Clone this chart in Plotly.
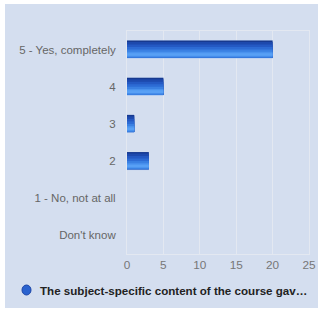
import plotly.graph_objects as go

categories = ["5 - Yes, completely", "4", "3", "2", "1 - No, not at all", "Don't know"]
counts = [20, 5, 1, 3, 0, 0]
x_ticks = [0, 5, 10, 15, 20, 25]
legend_label = "The subject-specific content of the course gav…"

W, H = 318, 313
L, R, T, B = 127, 309, 31, 254  # plot area in px

def px_x(x):
    return (x - L) / (R - L)

def px_y(y):
    return (B - y) / (B - T)

fig = go.Figure()

bar_w = 0.486
# gradient bands: (start fraction from top, end fraction, colour)
bands = [
    (0.00, 1.00, "#a9c6f0"),
    (0.00, 0.95, "#17398f"),
    (0.08, 0.95, "#1d49ad"),
    (0.22, 0.95, "#2459c3"),
    (0.36, 0.95, "#2d6bd4"),
    (0.50, 0.95, "#3a80e2"),
    (0.62, 0.89, "#4a92ee"),
    (0.70, 0.84, "#58a0f5"),
]
for s, e, c in bands:
    fig.add_trace(go.Bar(
        x=counts, y=categories, orientation="h",
        offset=-bar_w / 2 + s * bar_w, width=(e - s) * bar_w,
        marker=dict(color=c, line=dict(width=0)),
        showlegend=False, hoverinfo="x+y",
    ))

fig.update_layout(
    width=W, height=H,
    margin=dict(l=L, r=W - R, t=T, b=H - B, autoexpand=False),
    paper_bgcolor="white", plot_bgcolor="rgba(0,0,0,0)",
    barmode="overlay",
    font=dict(family="Liberation Sans, Arial, sans-serif", size=11.5, color="#666666"),
    showlegend=False,
    xaxis=dict(range=[0, 25], tickvals=x_ticks, showgrid=True, gridcolor="#e3e8f1",
               gridwidth=1, zeroline=False, showline=True, linecolor="#e3e8f1",
               mirror=True, ticks="", ticklen=0, tickfont=dict(size=11.8, color="#777777"),
               automargin=False, fixedrange=True),
    yaxis=dict(autorange="reversed", showgrid=False, zeroline=False, showline=True,
               linecolor="#e3e8f1", mirror=True, ticks="", ticklabelstandoff=8,
               tickfont=dict(size=11.5, color="#666666"), automargin=False, fixedrange=True),
    shapes=[
        dict(type="rect", xref="paper", yref="paper", layer="below",
             x0=px_x(5), x1=px_x(318), y0=px_y(308), y1=px_y(4),
             fillcolor="#d4deef", line=dict(width=0)),
        dict(type="circle", xref="paper", yref="paper",
             x0=px_x(22), x1=px_x(31), y0=px_y(295), y1=px_y(285),
             fillcolor="#2a62cf", line=dict(color="#1b45a8", width=1)),
    ],
    annotations=[
        dict(text="<b>" + legend_label + "</b>", xref="paper", yref="paper",
             x=px_x(38), y=px_y(290), xanchor="left", yanchor="middle",
             showarrow=False, font=dict(size=11.6, color="#222222")),
    ],
)

fig.write_html("out.html", config={"displayModeBar": False},
               post_script="document.body.style.margin='0';document.body.style.overflow='hidden';")
